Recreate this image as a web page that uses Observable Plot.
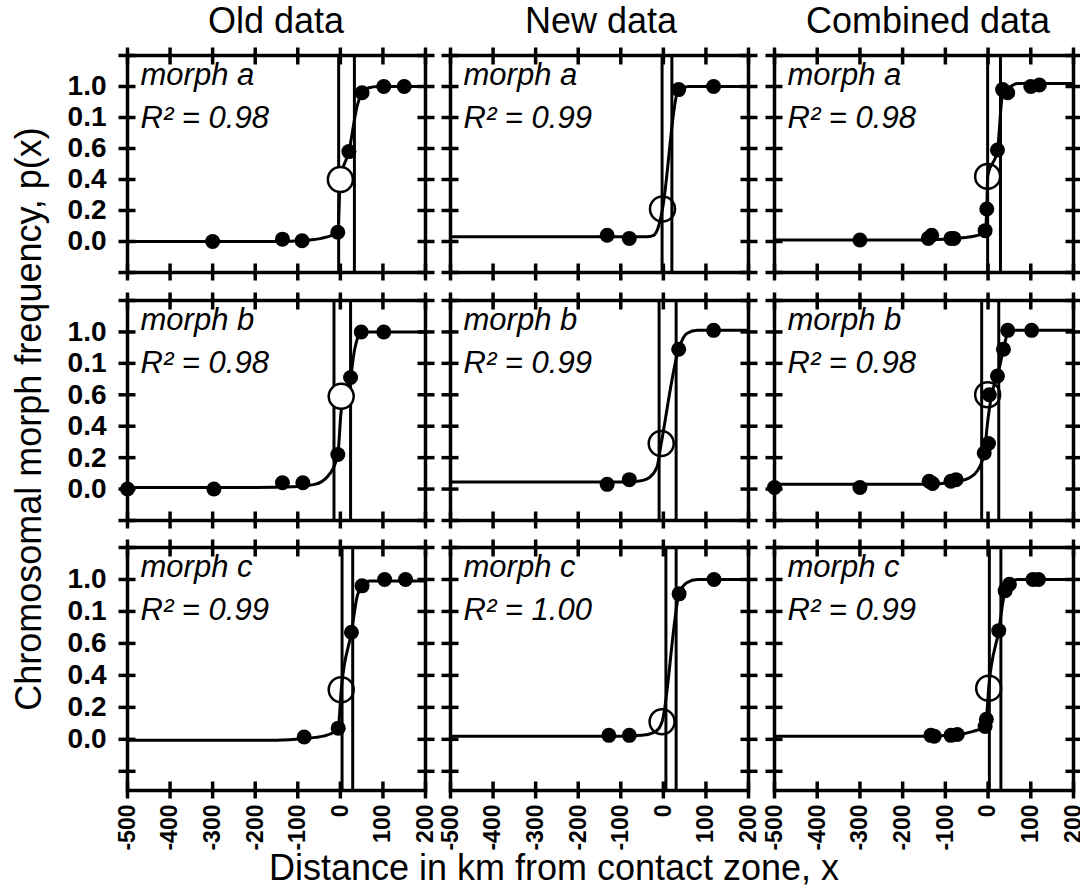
<!DOCTYPE html>
<html><head><meta charset="utf-8">
<script src="https://cdn.jsdelivr.net/npm/d3@7"></script>
<script src="https://cdn.jsdelivr.net/npm/@observablehq/plot@0.6"></script>
<style>
body{margin:0;background:#fff;}
#chart{position:relative;width:1080px;height:894px;overflow:hidden;background:#fff;font-family:Arial,"Liberation Sans",sans-serif;}
#chart svg{position:absolute;}
</style></head><body><div id="chart"></div>
<script>
// ---- labels ----
const columnTitles = ["Old data", "New data", "Combined data"];
const morphLabels = ["morph a", "morph b", "morph c"];
const r2Values = [["0.98", "0.99", "0.98"], ["0.98", "0.99", "0.98"], ["0.99", "1.00", "0.99"]];
const xTicks = [-500, -400, -300, -200, -100, 0, 100, 200];
const yTicks = [-0.2, 0, 0.2, 0.4, 0.6, 0.8, 1.0, 1.2];
const yLabelValues = [0, 0.2, 0.4, 0.6, 0.8, 1.0];
const yLabelText = ["0.0", "0.2", "0.4", "0.6", "0.1", "1.0"];
const xTitle = "Distance in km from contact zone, x";
const yTitle = "Chromosomal morph frequency, p(x)";

// ---- data: [distance km, frequency] ----
const oldA_pts = [[-300,0.0],[-136,0.015],[-90,0.005],[-6,0.06],[20,0.58],[51,0.96],[102,1.0],[150,1.0]];
const oldA_center = [[0,0.40]];
const oldA_lines = [-4,33];
const oldA_curve = [[-500,0],[-150,0.0],[-80,0.008],[-45,0.02],[-20,0.04],[-6,0.06],[0,0.40],[20,0.58],[40,0.88],[51,0.96],[65,0.99],[90,1.0],[200,1.0]];

const newA_pts = [[-132,0.04],[-80,0.02],[36,0.98],[118,1.0]];
const newA_center = [[-2,0.21]];
const newA_lines = [-3,20];
const newA_curve = [[-500,0.03],[-100,0.03],[-40,0.03],[-23,0.04],[-11,0.1],[-2,0.21],[33,0.96],[45,0.99],[60,1.0],[200,1.0]];

const combA_pts = [[-300,0.01],[-140,0.02],[-132,0.04],[-87,0.02],[-80,0.02],[-7,0.07],[-3,0.21],[22,0.59],[34,0.98],[46,0.96],[100,1.0],[120,1.01]];
const combA_center = [[-1,0.42]];
const combA_lines = [-1,29];
const combA_curve = [[-500,0.01],[-150,0.01],[-80,0.02],[-40,0.03],[-15,0.05],[-7,0.07],[-3,0.21],[-1,0.42],[22,0.59],[34,0.95],[46,0.985],[70,1.02],[200,1.02]];

const oldB_pts = [[-500,0.0],[-297,0.0],[-136,0.04],[-88,0.04],[-6,0.22],[24,0.71],[49,1.0],[102,1.0]];
const oldB_center = [[2,0.59]];
const oldB_lines = [-15,24];
const oldB_curve = [[-500,0.01],[-200,0.01],[-110,0.015],[-60,0.03],[-30,0.08],[-6,0.22],[2,0.5],[24,0.71],[33,0.88],[42,0.97],[55,1.0],[200,1.0]];

const newB_pts = [[-132,0.03],[-80,0.06],[36,0.89],[118,1.01]];
const newB_center = [[-5,0.29]];
const newB_lines = [-10,30];
const newB_curve = [[-500,0.045],[-100,0.045],[-60,0.05],[-38,0.065],[-15,0.14],[-5,0.29],[36,0.89],[55,0.99],[80,1.01],[200,1.01]];

const combB_pts = [[-500,0.01],[-300,0.01],[-138,0.05],[-130,0.035],[-87,0.05],[-75,0.06],[-9,0.23],[1,0.29],[3,0.60],[22,0.72],[36,0.89],[46,1.01],[102,1.01]];
const combB_center = [[-1,0.60]];
const combB_lines = [-15,25];
const combB_curve = [[-500,0.03],[-150,0.03],[-90,0.04],[-45,0.07],[-20,0.14],[-9,0.23],[0,0.45],[10,0.62],[22,0.72],[36,0.89],[46,0.99],[60,1.01],[200,1.01]];

const oldC_pts = [[-85,0.015],[-5,0.07],[26,0.67],[51,0.96],[104,1.0],[153,1.0]];
const oldC_center = [[2,0.31]];
const oldC_lines = [4,29];
const oldC_curve = [[-500,-0.005],[-150,-0.005],[-85,0.005],[-40,0.02],[-15,0.045],[-5,0.07],[2,0.31],[26,0.67],[40,0.9],[51,0.96],[70,0.99],[200,0.99]];

const newC_pts = [[-128,0.025],[-80,0.025],[37,0.91],[119,1.0]];
const newC_center = [[-3,0.11]];
const newC_lines = [6,30];
const newC_curve = [[-500,0.02],[-100,0.02],[-50,0.025],[-25,0.04],[-10,0.07],[-3,0.11],[37,0.91],[55,0.98],[80,1.0],[200,1.0]];

const combC_pts = [[-134,0.025],[-126,0.02],[-87,0.025],[-72,0.03],[-7,0.08],[-4,0.125],[25,0.68],[40,0.93],[50,0.97],[105,1.0],[118,1.0]];
const combC_center = [[1.4,0.32]];
const combC_lines = [3,30];
const combC_curve = [[-500,0.02],[-150,0.02],[-72,0.03],[-35,0.05],[-7,0.08],[-4,0.125],[1.4,0.32],[25,0.68],[40,0.93],[50,0.97],[70,1.0],[200,1.0]];

const panels = [
  [{pts:oldA_pts,center:oldA_center,lines:oldA_lines,curve:oldA_curve,fill:"white"},
   {pts:newA_pts,center:newA_center,lines:newA_lines,curve:newA_curve,fill:"none"},
   {pts:combA_pts,center:combA_center,lines:combA_lines,curve:combA_curve,fill:"none"}],
  [{pts:oldB_pts,center:oldB_center,lines:oldB_lines,curve:oldB_curve,fill:"white"},
   {pts:newB_pts,center:newB_center,lines:newB_lines,curve:newB_curve,fill:"none"},
   {pts:combB_pts,center:combB_center,lines:combB_lines,curve:combB_curve,fill:"none"}],
  [{pts:oldC_pts,center:oldC_center,lines:oldC_lines,curve:oldC_curve,fill:"none"},
   {pts:newC_pts,center:newC_center,lines:newC_lines,curve:newC_curve,fill:"none"},
   {pts:combC_pts,center:combC_center,lines:combC_lines,curve:combC_curve,fill:"none"}]
];

// ---- layout ----
const colLeft = [127, 450, 774], colRight = [425, 748, 1073];
const rowTop = [55, 300, 547], rowBottom = [272, 520, 790];
const rowYmin = [-0.2, -0.2, -0.32];
const FONT = 'Arial, "Liberation Sans", sans-serif';
const chart = document.getElementById("chart");

for (let ri = 0; ri < 3; ri++) {
  for (let ci = 0; ci < 3; ci++) {
    const p = panels[ri][ci];
    const isLeft = ci === 0, isBottom = ri === 2;
    const mL = isLeft ? 127 : 20, mR = 20, mT = 20, mB = isBottom ? 104 : 20;
    const W = colRight[ci] - colLeft[ci], H = rowBottom[ri] - rowTop[ri];
    const marks = [
      Plot.ruleX(p.lines, {x: d => d, stroke: "black", strokeWidth: 3}),
      Plot.line(p.curve, {x: d => d[0], y: d => d[1], curve: "monotone-x", stroke: "black", strokeWidth: 3}),
      Plot.dot(p.pts, {x: d => d[0], y: d => d[1], r: 7.5, fill: "black", stroke: "none"}),
      Plot.dot(p.center, {x: d => d[0], y: d => d[1], r: 12.5, fill: p.fill, stroke: "black", strokeWidth: 2.5}),
      Plot.frame({stroke: "black", strokeWidth: 3.5}),
      Plot.axisX({ticks: xTicks, anchor: "bottom", tickSize: 17, dy: -8.5, tickFormat: () => "", label: null, strokeWidth: 3.5}),
      Plot.axisX({ticks: xTicks, anchor: "top", tickSize: 17, dy: 8.5, tickFormat: () => "", label: null, strokeWidth: 3.5}),
      Plot.axisY({ticks: yTicks, anchor: "left", tickSize: 17, dx: 8.5, tickFormat: () => "", label: null, strokeWidth: 3.5}),
      Plot.axisY({ticks: yTicks, anchor: "right", tickSize: 17, dx: -8.5, tickFormat: () => "", label: null, strokeWidth: 3.5}),
      Plot.text([morphLabels[ri]], {text: d => d, frameAnchor: "top-left", dx: 13, dy: 7, lineAnchor: "top", textAnchor: "start", fontStyle: "italic", fontSize: 31, fill: "black"}),
      Plot.text(["R\u00B2 = " + r2Values[ri][ci]], {text: d => d, frameAnchor: "top-left", dx: 13, dy: 50, lineAnchor: "top", textAnchor: "start", fontStyle: "italic", fontSize: 31, fill: "black"})
    ];
    if (isLeft) {
      marks.push(Plot.axisY({ticks: yLabelValues, anchor: "left", tickSize: 0, tickPadding: 21, label: null,
        tickFormat: v => yLabelText[yLabelValues.indexOf(v)], fontSize: 28, fontWeight: "bold", fill: "black"}));
    }
    if (isBottom) {
      marks.push(Plot.axisX({ticks: xTicks, anchor: "bottom", tickSize: 0, tickPadding: 14, tickRotate: -90, label: null,
        tickFormat: v => String(v), fontSize: 23, fontWeight: "bold", fill: "black"}));
    }
    const svg = Plot.plot({
      width: W + mL + mR, height: H + mT + mB,
      marginLeft: mL, marginRight: mR, marginTop: mT, marginBottom: mB,
      x: {domain: [-500, 200], axis: null},
      y: {domain: [rowYmin[ri], 1.2], axis: null},
      style: {background: "transparent", overflow: "visible", fontFamily: FONT, color: "black"},
      marks
    });
    svg.style.left = (colLeft[ci] - mL) + "px";
    svg.style.top = (rowTop[ri] - mT) + "px";
    svg.style.maxWidth = "none";
    chart.appendChild(svg);
  }
}

// ---- titles ----
const overlay = d3.select(chart).append("svg")
  .attr("width", 1080).attr("height", 894)
  .style("left", "0px").style("top", "0px").style("pointer-events", "none")
  .style("font-family", FONT);
const titleX = [276, 601, 928];
columnTitles.forEach((t, i) => {
  overlay.append("text").attr("x", titleX[i]).attr("y", 33).attr("text-anchor", "middle")
    .attr("font-size", 36).attr("fill", "black").text(t);
});
overlay.append("text").attr("x", 554).attr("y", 880).attr("text-anchor", "middle")
  .attr("font-size", 36).attr("fill", "black").text(xTitle);
overlay.append("text").attr("transform", "translate(41,419) rotate(-90)").attr("text-anchor", "middle")
  .attr("font-size", 36).attr("fill", "black").text(yTitle);
</script>
</body></html>
